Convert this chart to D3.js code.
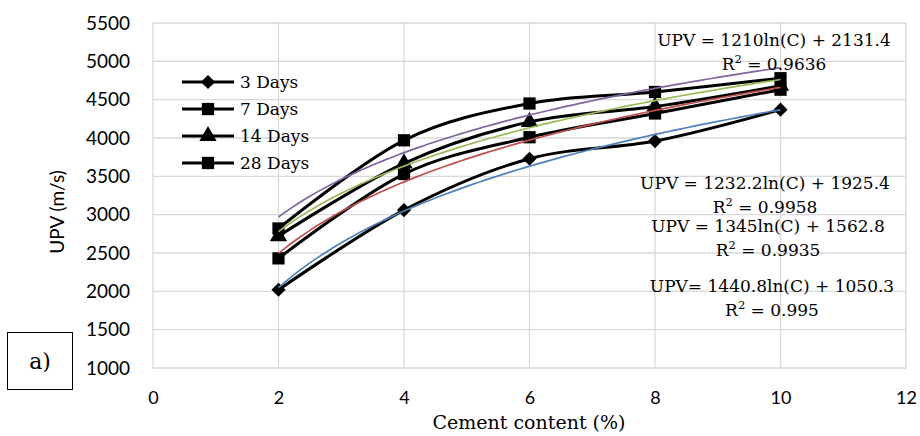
<!DOCTYPE html>
<html>
<head>
<meta charset="utf-8">
<script src="https://cdn.jsdelivr.net/npm/d3@7"></script>
<style>
  body { margin: 0; background: #fff; }
  svg { display: block; }
</style>
</head>
<body>
<div id="chart"></div>
<script>
// chart size
const width = 920;
const height = 436;
const margin = { top: 23, right: 14, bottom: 68, left: 153 };

// data
const cement = [2, 4, 6, 8, 10];
const seriesNames = ['3 Days', '7 Days', '14 Days', '28 Days'];
const days3 = [2020, 3060, 3730, 3960, 4370];
const days7 = [2430, 3530, 4010, 4320, 4630];
const days14 = [2720, 3670, 4210, 4410, 4680];
const days28 = [2820, 3970, 4450, 4600, 4780];

// log trendlines: UPV = a ln(C) + b
const trendA = [1440.8, 1345, 1232.2, 1210];
const trendB = [1050.3, 1562.8, 1925.4, 2131.4];
const trendColors = ['#4f81bd', '#c0504d', '#9bbb59', '#8064a2'];
const trendLabels = [
  ['UPV= 1440.8ln(C) + 1050.3', '0.995'],
  ['UPV = 1345ln(C) + 1562.8', '0.9935'],
  ['UPV = 1232.2ln(C) + 1925.4', '0.9958'],
  ['UPV = 1210ln(C) + 2131.4', '0.9636']
];

const xTicks = [0, 2, 4, 6, 8, 10, 12];
const yTicks = [1000, 1500, 2000, 2500, 3000, 3500, 4000, 4500, 5000, 5500];

const allSeries = [days3, days7, days14, days28];
const markers = [d3.symbolSquare, d3.symbolSquare, d3.symbolTriangle, d3.symbolSquare];
const markerSizes = [100, 150, 130, 150];
const markerRot = [45, 0, 0, 0];

const serif = '"DejaVu Serif", serif';
const sans = 'Lato, sans-serif';

const svg = d3.select('#chart')
  .append('svg')
  .attr('width', width)
  .attr('height', height);

const x = d3.scaleLinear().domain([0, 12]).range([margin.left, width - margin.right]);
const y = d3.scaleLinear().domain([1000, 5500]).range([height - margin.bottom, margin.top]);

// grid
svg.append('g')
  .selectAll('line')
  .data(xTicks)
  .enter().append('line')
  .attr('x1', d => x(d)).attr('x2', d => x(d))
  .attr('y1', y(1000)).attr('y2', y(5500))
  .attr('stroke', '#d9d9d9').attr('stroke-width', 1.3);

svg.append('g')
  .selectAll('line')
  .data(yTicks)
  .enter().append('line')
  .attr('x1', x(0)).attr('x2', x(12))
  .attr('y1', d => y(d)).attr('y2', d => y(d))
  .attr('stroke', '#d9d9d9').attr('stroke-width', 1.3);

// tick labels (no axis lines)
const yAxis = d3.axisLeft(y).tickValues(yTicks).tickFormat(d3.format('d')).tickSize(0).tickPadding(23);
svg.append('g')
  .attr('transform', `translate(${x(0)},0)`)
  .call(yAxis)
  .call(g => g.select('.domain').remove())
  .selectAll('text')
  .attr('font-family', sans)
  .attr('font-size', 19)
  .attr('fill', '#000');

const xAxis = d3.axisBottom(x).tickValues(xTicks).tickFormat(d3.format('d')).tickSize(0).tickPadding(23);
svg.append('g')
  .attr('transform', `translate(0,${y(1000)})`)
  .call(xAxis)
  .call(g => g.select('.domain').remove())
  .selectAll('text')
  .attr('font-family', sans)
  .attr('font-size', 18)
  .attr('fill', '#000');

svg.append('text')
  .attr('x', 529)
  .attr('y', 429)
  .attr('text-anchor', 'middle')
  .attr('font-family', serif)
  .attr('font-size', 19)
  .text('Cement content (%)');

svg.append('text')
  .attr('transform', 'translate(64,212) rotate(-90)')
  .attr('text-anchor', 'middle')
  .attr('font-family', sans)
  .attr('font-size', 19)
  .text('UPV (m/s)');

// series lines
const line = d3.line()
  .x((d, i) => x(cement[i]))
  .y(d => y(d))
  .curve(d3.curveCardinal.tension(0));

allSeries.forEach((s, k) => {
  svg.append('path')
    .datum(s)
    .attr('d', line)
    .attr('fill', 'none')
    .attr('stroke', '#000')
    .attr('stroke-width', 3);
  svg.append('g')
    .selectAll('path')
    .data(s)
    .enter().append('path')
    .attr('transform', (d, i) => `translate(${x(cement[i])},${y(d)}) rotate(${markerRot[k]})`)
    .attr('d', d3.symbol().type(markers[k]).size(markerSizes[k]))
    .attr('fill', '#000');
});

// trendlines
const cs = d3.range(2, 10.001, 0.1);
trendA.forEach((a, k) => {
  const tl = d3.line()
    .x(c => x(c))
    .y(c => y(a * Math.log(c) + trendB[k]));
  svg.append('path')
    .datum(cs)
    .attr('d', tl)
    .attr('fill', 'none')
    .attr('stroke', trendColors[k])
    .attr('stroke-width', 1.7);
});

// equation labels
const eqPos = [[772, 292, 316], [768, 232, 256], [765, 189, 213], [774, 46, 70]];
trendLabels.forEach((lab, k) => {
  const [cx, y1, y2] = eqPos[k];
  svg.append('text')
    .attr('x', cx).attr('y', y1)
    .attr('text-anchor', 'middle')
    .attr('font-family', serif)
    .attr('font-size', 17)
    .text(lab[0]);
  const t = svg.append('text')
    .attr('x', cx).attr('y', y2)
    .attr('text-anchor', 'middle')
    .attr('font-family', serif)
    .attr('font-size', 17);
  t.append('tspan').text('R');
  t.append('tspan').attr('dy', -7).attr('font-size', 11.5).text('2');
  t.append('tspan').attr('dy', 7).text(' = ' + lab[1]);
});

// legend
const legend = svg.append('g');
seriesNames.forEach((name, k) => {
  const ly = 82 + k * 27;
  legend.append('line')
    .attr('x1', 182).attr('x2', 234)
    .attr('y1', ly).attr('y2', ly)
    .attr('stroke', '#000').attr('stroke-width', 3);
  legend.append('path')
    .attr('transform', `translate(208,${ly}) rotate(${markerRot[k]})`)
    .attr('d', d3.symbol().type(markers[k]).size(markerSizes[k]))
    .attr('fill', '#000');
  legend.append('text')
    .attr('x', 240).attr('y', ly + 6)
    .attr('font-family', serif)
    .attr('font-size', 17)
    .text(name);
});

// panel tag
svg.append('rect')
  .attr('x', 7.5).attr('y', 332.5)
  .attr('width', 65).attr('height', 57)
  .attr('fill', '#fff').attr('stroke', '#000').attr('stroke-width', 1);
svg.append('text')
  .attr('x', 40).attr('y', 369)
  .attr('text-anchor', 'middle')
  .attr('font-family', serif)
  .attr('font-size', 22)
  .text('a)');
</script>
</body>
</html>
